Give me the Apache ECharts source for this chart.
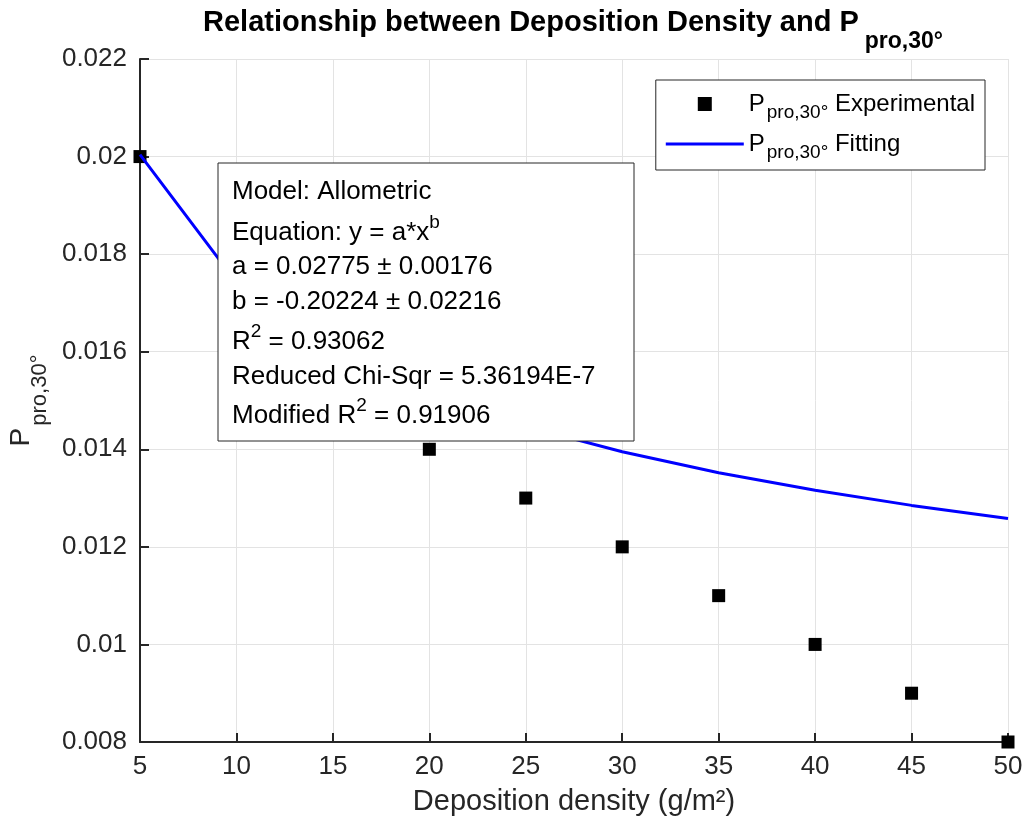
<!DOCTYPE html>
<html><head><meta charset="utf-8">
<script src="https://cdn.jsdelivr.net/npm/echarts@6/dist/echarts.min.js"></script>
<style>html,body{margin:0;padding:0;background:#fff}#c{width:1026px;height:827px}</style>
</head><body><div id="c"></div>
<script>
// ---- data ----
const xValues = [5, 10, 15, 20, 25, 30, 35, 40, 45, 50];
const experimental = [0.020, 0.018, 0.016, 0.014, 0.013, 0.012, 0.011, 0.010, 0.009, 0.008];
const fitting = [0.02004, 0.01742, 0.01605, 0.01514, 0.01447, 0.01395, 0.01352, 0.01316, 0.01285, 0.01258];
const yTickLabels = ['0.008', '0.01', '0.012', '0.014', '0.016', '0.018', '0.02', '0.022'];
const seriesNames = ['Experimental', 'Fitting'];
const fitTextLines = [
  '{n|Model: Allometric}',
  '{n|Equation: y = a*x}{s|b}',
  '{n|a = 0.02775 ± 0.00176}',
  '{n|b = -0.20224 ± 0.02216}',
  '{n|R}{s|2}{n| = 0.93062}',
  '{n|Reduced Chi-Sqr = 5.36194E-7}',
  '{n|Modified R}{s|2}{n| = 0.91906}'
];
const fitTextY = [192, 233, 267, 302, 342, 377, 416];

// ---- chart ----
const FONT = "'Liberation Sans', Arial, Helvetica, sans-serif";
const TXT = '#262626';
const chart = echarts.init(document.getElementById('c'), null, {renderer: 'canvas'});

const boxRich = {
  n: {fontFamily: FONT, fontSize: 26, lineHeight: 40, color: '#000'},
  s: {fontFamily: FONT, fontSize: 19, lineHeight: 8, verticalAlign: 'top', color: '#000'}
};

const boxChildren = [{
  type: 'rect', z: 100,
  shape: {x: 218, y: 163, width: 416, height: 278},
  style: {fill: '#fff', stroke: '#262626', lineWidth: 1}
}];
fitTextLines.forEach((t, i) => {
  boxChildren.push({
    type: 'text', z: 101, x: 232, y: fitTextY[i],
    style: {text: t, rich: boxRich, verticalAlign: 'middle', align: 'left', fontFamily: FONT, fontSize: 26, fill: '#000'}
  });
});

const option = {
  backgroundColor: '#fff',
  animation: false,
  title: {
    text: '{b|Relationship between Deposition Density and P}{s|pro,30°}',
    left: 203, top: 3,
    padding: 0,
    textStyle: {
      rich: {
        b: {fontFamily: FONT, fontSize: 29, fontWeight: 'bold', lineHeight: 40, color: '#000'},
        s: {fontFamily: FONT, fontSize: 23, fontWeight: 'bold', lineHeight: 2, verticalAlign: 'top',
            padding: [27, 0, 0, 6], color: '#000'}
      }
    }
  },
  legend: {
    orient: 'vertical', right: 41, top: 80,
    backgroundColor: '#fff', borderColor: '#262626', borderWidth: 1,
    padding: [11, 10, 8, 10],
    itemWidth: 78, itemHeight: 14, itemGap: 9,
    data: [
      {name: seriesNames[0], icon: 'path://M0,0h10v10h-10z', itemStyle: {color: '#000'}},
      {name: seriesNames[1], icon: 'path://M0,0h78v3h-78z', itemStyle: {color: '#0000ff'}}
    ],
    formatter: name => '{n|P}{s|pro,30°}{n| ' + name + '}',
    textStyle: {
      rich: {
        n: {fontFamily: FONT, fontSize: 24, lineHeight: 26, color: '#000'},
        s: {fontFamily: FONT, fontSize: 19, lineHeight: 6, verticalAlign: 'top', padding: [12, 0, 0, 2], color: '#000'}
      }
    }
  },
  grid: {left: 140, right: 18, top: 59, bottom: 85, containLabel: false, outerBoundsMode: 'none'},
  xAxis: {
    type: 'value', min: 5, max: 50, interval: 5,
    name: 'Deposition density (g/m²)', nameLocation: 'middle', nameGap: 45,
    nameTextStyle: {fontFamily: FONT, fontSize: 29, color: TXT, lineHeight: 30},
    axisLine: {show: true, lineStyle: {color: TXT, width: 2}},
    axisTick: {show: true, inside: true, length: 9, lineStyle: {color: TXT, width: 2}},
    axisLabel: {fontFamily: FONT, fontSize: 26, color: TXT, margin: 12},
    splitLine: {show: true, lineStyle: {color: '#e3e3e3', width: 1}}
  },
  yAxis: {
    type: 'value', min: 0.008, max: 0.022, interval: 0.002,
    name: '{n|P}{s|pro,30°}', nameLocation: 'middle', nameGap: 93, nameRotate: 90,
    nameTextStyle: {
      rich: {
        n: {fontFamily: FONT, fontSize: 28, lineHeight: 40, color: TXT},
        s: {fontFamily: FONT, fontSize: 22, lineHeight: 1, verticalAlign: 'top', padding: [28, 0, 0, 2], color: TXT}
      }
    },
    axisLine: {show: true, lineStyle: {color: TXT, width: 2}},
    axisTick: {show: true, inside: true, length: 9, lineStyle: {color: TXT, width: 2}},
    axisLabel: {
      fontFamily: FONT, fontSize: 26, color: TXT, margin: 13,
      formatter: v => yTickLabels[Math.round((v - 0.008) / 0.002)]
    },
    splitLine: {show: true, lineStyle: {color: '#e3e3e3', width: 1}}
  },
  series: [
    {
      name: seriesNames[0], type: 'scatter', z: 2,
      symbol: 'rect', symbolSize: 13,
      itemStyle: {color: '#000', opacity: 1},
      clip: false,
      data: xValues.map((x, i) => [x, experimental[i]])
    },
    {
      name: seriesNames[1], type: 'line', z: 3,
      symbol: 'none', smooth: false,
      lineStyle: {color: '#0000ff', width: 3},
      itemStyle: {color: '#0000ff'},
      clip: false,
      data: xValues.map((x, i) => [x, fitting[i]])
    }
  ],
  graphic: [{type: 'group', z: 100, children: boxChildren}]
};
chart.setOption(option);
</script>
</body></html>
